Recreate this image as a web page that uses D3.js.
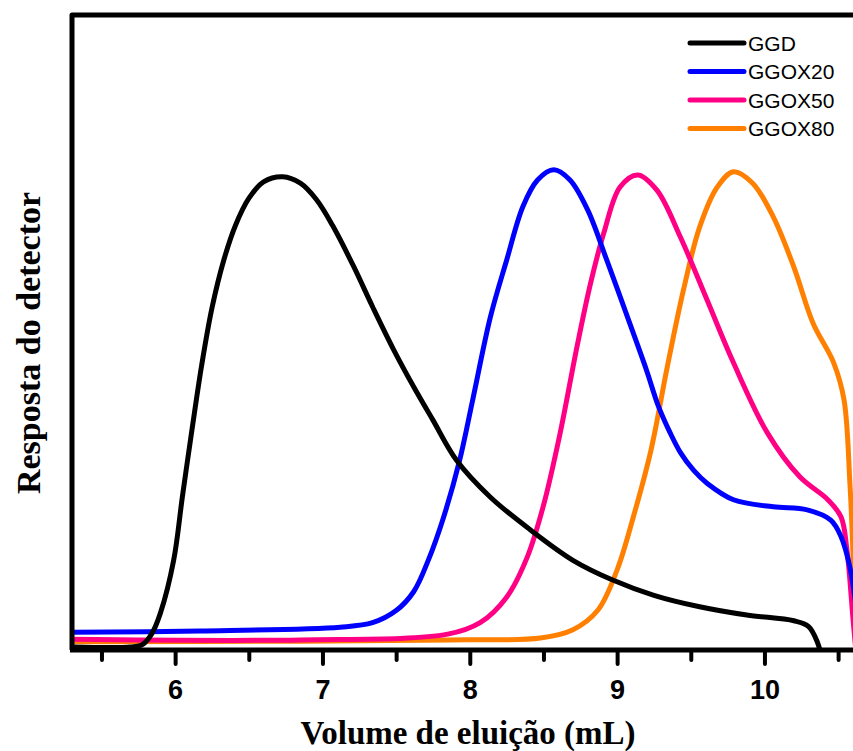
<!DOCTYPE html>
<html>
<head>
<meta charset="utf-8">
<script src="https://cdn.jsdelivr.net/npm/d3@7"></script>
<style>
  body { margin: 0; background: #fff; }
  svg { display: block; }
</style>
</head>
<body>
<div id="chart"></div>
<script>
        var width = 853, height = 751;

        // series names and colours
        var seriesNames = ["GGD", "GGOX20", "GGOX50", "GGOX80"];
        var seriesColors = ["#000000", "#0000ff", "#ff0085", "#ff8000"];

        // elution volume (mL) and detector response (arb. units, 0-100)
        var ggdX = [5.29, 5.70, 5.78, 5.84, 5.90, 5.99, 6.05, 6.12, 6.18, 6.25, 6.33, 6.41, 6.50, 6.60, 6.73, 6.85, 6.96, 7.07, 7.21, 7.34, 7.48, 7.62, 7.75, 7.91, 8.14, 8.41, 8.70, 8.97, 9.25, 9.56, 9.88, 10.20, 10.30, 10.36, 10.40];
        var ggdY = [0.8, 0.8, 1.2, 2.8, 6.1, 14.4, 24.5, 35.8, 45.0, 54.0, 61.5, 67.0, 71.2, 73.8, 74.6, 73.6, 71.0, 66.9, 60.6, 54.2, 47.6, 41.6, 36.4, 30.1, 24.3, 19.2, 14.4, 11.3, 8.9, 7.1, 5.8, 4.9, 4.0, 1.5, -2.0];

        var ox20X = [5.29, 6.17, 7.12, 7.34, 7.50, 7.62, 7.72, 7.82, 7.93, 8.02, 8.14, 8.25, 8.36, 8.46, 8.57, 8.68, 8.80, 8.93, 9.07, 9.20, 9.28, 9.36, 9.43, 9.52, 9.61, 9.79, 10.06, 10.29, 10.45, 10.52, 10.58, 10.65];
        var ox20Y = [3.1, 3.3, 3.9, 4.6, 6.5, 9.5, 14.5, 21.0, 30.0, 39.6, 52.6, 61.5, 69.9, 74.1, 75.7, 74.1, 69.4, 61.5, 52.6, 44.2, 38.6, 34.4, 31.3, 28.5, 26.5, 23.9, 22.8, 22.3, 20.7, 18.1, 13.3, 2.0];

        var ox50X = [5.29, 6.85, 7.85, 8.07, 8.25, 8.39, 8.50, 8.61, 8.73, 8.82, 8.91, 9.02, 9.14, 9.27, 9.43, 9.61, 9.79, 10.02, 10.24, 10.43, 10.52, 10.56, 10.60, 10.62];
        var ox50Y = [2.0, 1.9, 2.8, 4.6, 8.6, 14.9, 23.0, 34.0, 48.2, 57.9, 65.8, 73.0, 74.9, 72.5, 65.1, 55.3, 45.4, 34.4, 27.5, 23.9, 21.2, 16.0, 5.5, 0.3];

        var ox80X = [5.29, 6.85, 7.87, 8.48, 8.70, 8.87, 9.00, 9.11, 9.23, 9.34, 9.45, 9.56, 9.68, 9.79, 9.92, 10.06, 10.20, 10.33, 10.47, 10.54, 10.58, 10.60, 10.62];
        var ox80Y = [1.6, 1.7, 1.9, 2.2, 3.5, 6.6, 12.9, 21.2, 31.7, 44.7, 56.8, 66.7, 73.0, 75.4, 73.6, 68.3, 60.4, 51.6, 45.4, 39.6, 26.5, 16.0, 1.9];

        var majorTicks = [6, 7, 8, 9, 10];
        var minorTicks = [5.5, 6.5, 7.5, 8.5, 9.5, 10.5];

        var xTitle = "Volume de eluição (mL)";
        var yTitle = "Resposta do detector";

        var series = [
            { name: seriesNames[0], color: seriesColors[0], xs: ggdX, ys: ggdY },
            { name: seriesNames[1], color: seriesColors[1], xs: ox20X, ys: ox20Y },
            { name: seriesNames[2], color: seriesColors[2], xs: ox50X, ys: ox50Y },
            { name: seriesNames[3], color: seriesColors[3], xs: ox80X, ys: ox80Y }
        ];

        // plot box (window.top is reserved, so use other names)
        var plotL = 72, plotR = 872, plotT = 15, plotB = 650;

        var x = d3.scaleLinear().domain([5.30, 10.73]).range([plotL, plotR]);
        var y = d3.scaleLinear().domain([0, 100]).range([652, 15]);

        var svg = d3.select("#chart")
                    .append("svg")
                    .attr("width", width)
                    .attr("height", height);

        svg.append("clipPath").attr("id", "plotclip")
           .append("rect")
           .attr("x", plotL).attr("y", plotT)
           .attr("width", plotR - plotL).attr("height", plotB - plotT);

        var line = d3.line()
                     .x(d => x(d[0]))
                     .y(d => y(d[1]))
                     .curve(d3.curveCatmullRom.alpha(0.5));

        var plot = svg.append("g").attr("clip-path", "url(#plotclip)");

        // orange first so the others sit on top, like the original
        [3, 2, 1, 0].forEach(function(i) {
            var s = series[i];
            var pts = s.xs.map((v, k) => [v, s.ys[k]]);
            plot.append("path")
                .attr("d", line(pts))
                .attr("fill", "none")
                .attr("stroke", s.color)
                .attr("stroke-width", 5)
                .attr("stroke-linejoin", "round");
        });

        // minor ticks
        svg.append("g")
           .attr("transform", "translate(0," + plotB + ")")
           .call(d3.axisBottom(x).tickValues(minorTicks).tickSize(10).tickFormat(""))
           .call(g => g.select(".domain").remove())
           .selectAll("line")
           .attr("stroke-width", 4)
           .attr("stroke-linecap", "round");

        // major ticks and labels
        var xAxis = svg.append("g")
           .attr("transform", "translate(0," + plotB + ")")
           .call(d3.axisBottom(x).tickValues(majorTicks).tickSize(14).tickPadding(16).tickFormat(d3.format("d")));
        xAxis.select(".domain").remove();
        xAxis.selectAll("line")
             .attr("stroke-width", 4)
             .attr("stroke-linecap", "round");
        xAxis.selectAll("text")
             .attr("font-family", "'Liberation Sans', Arial, sans-serif")
             .attr("font-weight", "bold")
             .attr("font-size", 27)
             .attr("fill", "#000");

        // frame: left, top, bottom
        svg.append("path")
           .attr("d", "M" + plotL + "," + plotB + "L" + plotL + "," + plotT + "L" + (width + 10) + "," + plotT)
           .attr("fill", "none")
           .attr("stroke", "#000")
           .attr("stroke-width", 5)
           .attr("stroke-linejoin", "round");
        svg.append("line")
           .attr("x1", plotL - 2).attr("x2", width + 10)
           .attr("y1", plotB).attr("y2", plotB)
           .attr("stroke", "#000")
           .attr("stroke-width", 5);

        // axis titles
        svg.append("text")
           .attr("x", 468).attr("y", 744)
           .attr("text-anchor", "middle")
           .attr("font-family", "'Liberation Serif', 'Times New Roman', serif")
           .attr("font-weight", "bold")
           .attr("font-size", 33)
           .text(xTitle);

        svg.append("text")
           .attr("transform", "translate(40,343) rotate(-90)")
           .attr("text-anchor", "middle")
           .attr("font-family", "'Liberation Serif', 'Times New Roman', serif")
           .attr("font-weight", "bold")
           .attr("font-size", 34)
           .text(yTitle);

        // legend
        var legend = svg.append("g");
        series.forEach(function(s, i) {
            var ly = 43 + i * 28.5;
            legend.append("line")
                  .attr("x1", 690).attr("x2", 744)
                  .attr("y1", ly).attr("y2", ly)
                  .attr("stroke", s.color)
                  .attr("stroke-width", 5)
                  .attr("stroke-linecap", "round");
            legend.append("text")
                  .attr("x", 748).attr("y", ly + 7.5)
                  .attr("font-family", "'Liberation Sans', Arial, sans-serif")
                  .attr("font-size", 21)
                  .attr("fill", "#000")
                  .text(s.name);
        });
</script>
</body>
</html>
